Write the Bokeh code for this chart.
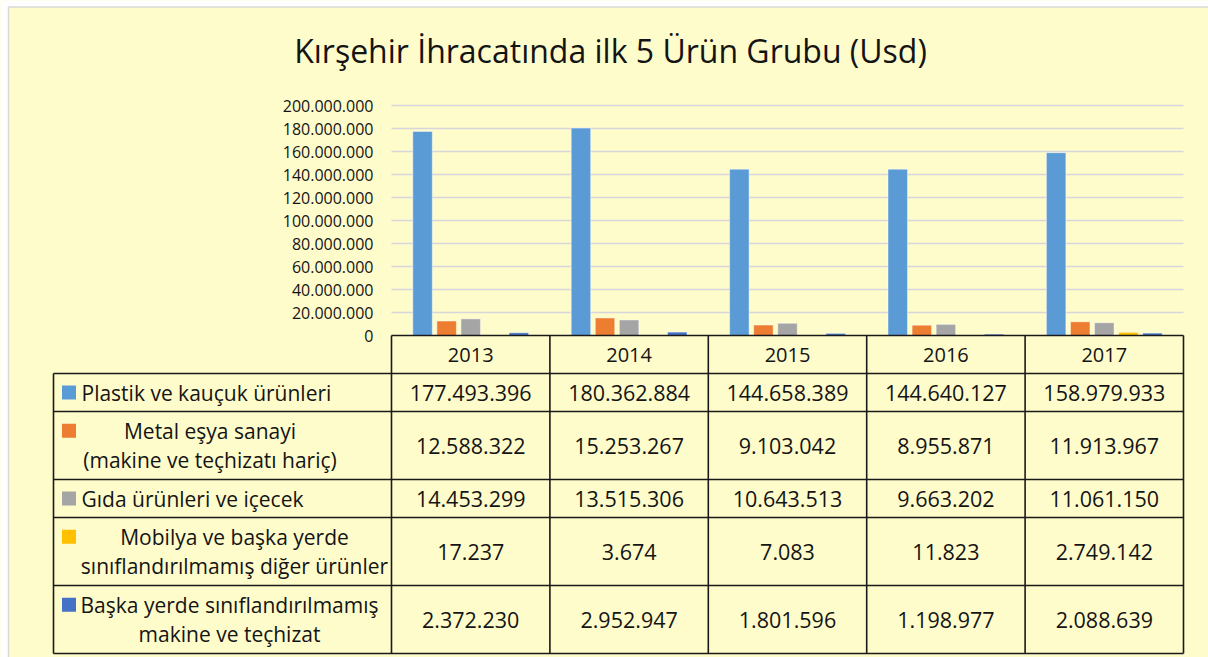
from bokeh.plotting import figure
from bokeh.models import Range1d, GlobalInlineStyleSheet
from bokeh.core.properties import value
from bokeh.embed import file_html
from bokeh.resources import INLINE

# ---------------- data ----------------
title_text = "Kırşehir İhracatında ilk 5 Ürün Grubu (Usd)"
years = ["2013", "2014", "2015", "2016", "2017"]
series_names = [
    "Plastik ve kauçuk ürünleri",
    "Metal eşya sanayi\n(makine ve teçhizatı hariç)",
    "Gıda ürünleri ve içecek",
    "Mobilya ve başka yerde\nsınıflandırılmamış diğer ürünler",
    "Başka yerde sınıflandırılmamış\nmakine ve teçhizat",
]
plastik = [177493396, 180362884, 144658389, 144640127, 158979933]
metal = [12588322, 15253267, 9103042, 8955871, 11913967]
gida = [14453299, 13515306, 10643513, 9663202, 11061150]
mobilya = [17237, 3674, 7083, 11823, 2749142]
baska = [2372230, 2952947, 1801596, 1198977, 2088639]
y_ticks = [0, 20000000, 40000000, 60000000, 80000000, 100000000,
           120000000, 140000000, 160000000, 180000000, 200000000]

series = [plastik, metal, gida, mobilya, baska]
colors = ["#5B9BD5", "#ED7D31", "#A5A5A5", "#FFC000", "#4472C4"]

def fmt(v):
    return f"{v:,}".replace(",", ".")

# ---------------- layout (page pixel coordinates) ----------------
BG = "#FFFCCB"
FONT = value("Open Sans")
TXT = "#141414"
W, H = 1208, 657
PX0, PY0 = 0, 0
PLOT_L, PLOT_R = 391, 1183
Y0_PX, YTOP_PX = 335, 105
TABLE_L = 53
rows_y = [335, 373, 411, 479, 517, 585, 653]

p = figure(width=W, height=H, output_backend="svg", toolbar_location=None,
           x_range=Range1d(PX0, PX0 + W), y_range=Range1d(PY0 + H, PY0),
           x_axis_location=None, y_axis_location=None, min_border=0,
           background_fill_color=BG, border_fill_color=BG,
           outline_line_color=None)
p.grid.visible = False
p.stylesheets = [GlobalInlineStyleSheet(css="html, body { overflow: hidden; }")]

# white page edge + thin gray frame of the slide
p.quad(left=[0, 0], right=[W, 8], top=[0, 0], bottom=[6, H], fill_color="white", line_color=None)
p.segment(x0=[8, 8], x1=[W, 8], y0=[6.5, 6], y1=[6.5, H], line_color="#D9D9D9", line_width=1.5)

colpx = (PLOT_R - PLOT_L) / len(years)
p.extra_x_ranges = {"yr": Range1d((PX0 - PLOT_L) / colpx, (PX0 + W - PLOT_L) / colpx)}
k = y_ticks[-1] / (Y0_PX - YTOP_PX)
p.extra_y_ranges = {"val": Range1d(-(PY0 + H - Y0_PX) * k, (Y0_PX - PY0) * k)}

# gridlines
gt = y_ticks[1:]
p.segment(x0=[0] * len(gt), x1=[len(years)] * len(gt), y0=gt, y1=gt,
          x_range_name="yr", y_range_name="val", line_color="#D6D6DC", line_width=1.5)

# bars
step, bw = 0.152, 0.123
for j, vals in enumerate(series):
    xs = [i + 0.5 + (j - 2) * step for i in range(len(years))]
    p.vbar(x=xs, top=vals, bottom=0, width=bw, x_range_name="yr", y_range_name="val",
           fill_color=colors[j], line_color="#FFFFFF", line_alpha=0.45, line_width=1)

# tick labels
p.text(x=[373] * len(y_ticks), y=y_ticks, y_range_name="val",
       text=[fmt(t) for t in y_ticks], text_align="right", text_baseline="middle",
       text_font=FONT, text_font_size="16px", text_color=TXT)

# title
p.text(x=[610], y=[50], text=[title_text], text_align="center", text_baseline="middle",
       text_font=FONT, text_font_size="32px", text_color=TXT)

# table lines
LC, LW = "#1A1A1A", 1.6
p.segment(x0=[PLOT_L], x1=[PLOT_R], y0=[rows_y[0]], y1=[rows_y[0]], line_color=LC, line_width=LW)
p.segment(x0=[TABLE_L] * 6, x1=[PLOT_R] * 6, y0=rows_y[1:], y1=rows_y[1:], line_color=LC, line_width=LW)
p.segment(x0=[TABLE_L], x1=[TABLE_L], y0=[rows_y[1]], y1=[rows_y[-1]], line_color=LC, line_width=LW)
vx = list(range(len(years) + 1))
p.segment(x0=vx, x1=vx, y0=[rows_y[0]] * len(vx), y1=[rows_y[-1]] * len(vx),
          x_range_name="yr", line_color=LC, line_width=LW)

# header years
p.text(x=[i + 0.5 for i in range(len(years))], y=[(rows_y[0] + rows_y[1]) / 2] * len(years),
       x_range_name="yr", text=years, text_align="center", text_baseline="middle",
       text_font=FONT, text_font_size="20px", text_color=TXT)

# values + row labels
label_centers = [None, 209.5, None, 234, 229]
for j, vals in enumerate(series):
    mid = (rows_y[j + 1] + rows_y[j + 2]) / 2
    p.text(x=[i + 0.5 for i in range(len(years))], y=[mid] * len(years), x_range_name="yr",
           text=[fmt(v) for v in vals], text_align="center", text_baseline="middle",
           text_font=FONT, text_font_size="21.5px", text_color=TXT)
    lines = series_names[j].split("\n")
    if len(lines) == 1:
        p.text(x=[81], y=[mid], text=lines, text_align="left", text_baseline="middle",
               text_font=FONT, text_font_size="21px", text_color=TXT)
        sq_y = mid
    else:
        ys = [mid - 14.75, mid + 14.75]
        p.text(x=[label_centers[j]] * 2, y=ys, text=lines, text_align="center",
               text_baseline="middle", text_font=FONT, text_font_size="21px", text_color=TXT)
        sq_y = ys[0]
    p.rect(x=[68.5], y=[sq_y], width=14, height=14, fill_color=colors[j], line_color=None)

open("out.html", "w").write(file_html(p, INLINE))
